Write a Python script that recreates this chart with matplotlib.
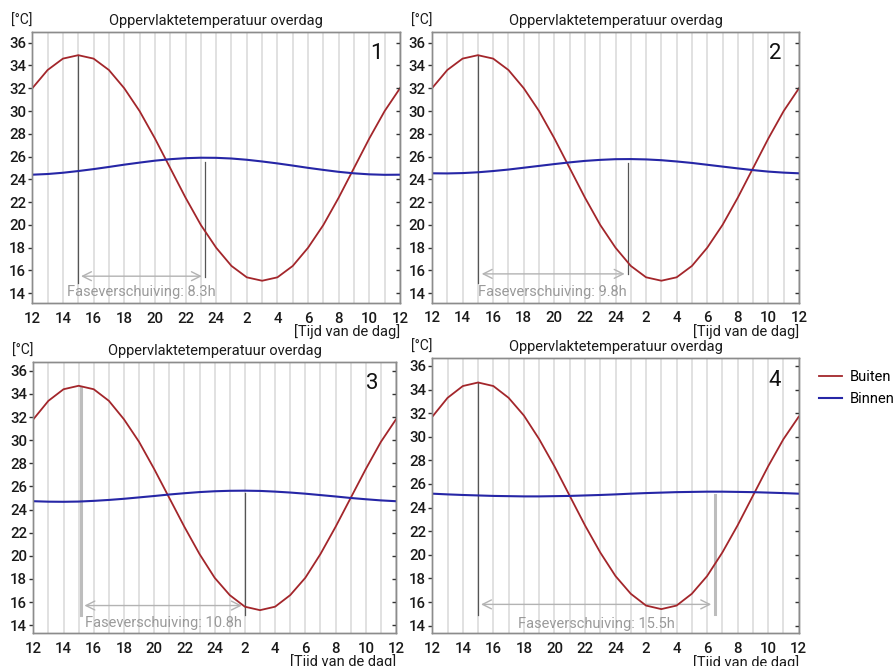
import matplotlib
matplotlib.use("Agg")
import matplotlib.pyplot as plt
from matplotlib.lines import Line2D

plt.rcParams['font.family'] = ['Roboto', 'DejaVu Sans']

# ---- data -------------------------------------------------------------
hours = list(range(25))  # 12:00 .. 12:00 next day
tick_pos = list(range(0, 25, 2))
tick_labels = ['12', '14', '16', '18', '20', '22', '24', '2', '4', '6', '8', '10', '12']
y_ticks = list(range(14, 37, 2))

buiten_1 = [32.0, 33.6, 34.6, 34.9, 34.6, 33.6, 32.0, 30.0, 27.6, 25.0, 22.4, 20.0, 18.0,
            16.4, 15.4, 15.1, 15.4, 16.4, 18.0, 20.0, 22.4, 25.0, 27.6, 30.0, 32.0]
buiten_2 = [32.0, 33.6, 34.6, 34.9, 34.6, 33.6, 32.0, 30.0, 27.6, 25.0, 22.4, 20.0, 18.0,
            16.4, 15.4, 15.1, 15.4, 16.4, 18.0, 20.0, 22.4, 25.0, 27.6, 30.0, 32.0]
buiten_3 = [31.8, 33.4, 34.4, 34.7, 34.4, 33.4, 31.8, 29.85, 27.5, 25.0, 22.5, 20.15, 18.1,
            16.6, 15.6, 15.3, 15.6, 16.6, 18.1, 20.15, 22.5, 25.0, 27.5, 29.85, 31.8]
buiten_4 = [31.7, 33.3, 34.3, 34.6, 34.3, 33.3, 31.8, 29.8, 27.5, 25.0, 22.5, 20.2, 18.2,
            16.7, 15.7, 15.4, 15.7, 16.7, 18.2, 20.2, 22.5, 25.0, 27.5, 29.8, 31.7]

binnen_1 = [24.41, 24.47, 24.58, 24.73, 24.90, 25.09, 25.29, 25.47, 25.64, 25.77, 25.86, 25.90, 25.89,
            25.83, 25.72, 25.57, 25.40, 25.21, 25.01, 24.83, 24.66, 24.53, 24.44, 24.40, 24.41]
binnen_2 = [24.53, 24.52, 24.55, 24.62, 24.73, 24.86, 25.02, 25.18, 25.34, 25.49, 25.62, 25.71, 25.77,
            25.78, 25.75, 25.68, 25.57, 25.44, 25.28, 25.12, 24.96, 24.81, 24.68, 24.59, 24.53]
binnen_3 = [24.72, 24.68, 24.67, 24.69, 24.75, 24.83, 24.93, 25.05, 25.17, 25.30, 25.41, 25.51, 25.58,
            25.62, 25.63, 25.61, 25.55, 25.47, 25.37, 25.25, 25.13, 25.00, 24.89, 24.79, 24.72]
binnen_4 = [25.18, 25.12, 25.07, 25.03, 24.99, 24.97, 24.95, 24.95, 24.97, 24.99, 25.03, 25.07, 25.12,
            25.18, 25.23, 25.27, 25.31, 25.33, 25.35, 25.35, 25.33, 25.31, 25.27, 25.23, 25.18]

panel_numbers = ['1', '2', '3', '4']
phase_shift_labels = ['Faseverschuiving: 8.3h', 'Faseverschuiving: 9.8h',
                      'Faseverschuiving: 10.8h', 'Faseverschuiving: 15.5h']
peak_outside = [3.0, 3.0, 3.16, 3.0]          # hour index of outdoor peak marker
peak_inside = [11.3, 12.8, 14.0, 18.5]        # hour index of indoor peak marker
outside_marker_top = [34.9, 34.9, 34.48, 34.6]
inside_marker_top = [25.55, 25.46, 25.4, 25.07]
inside_marker_bottom = [15.46, 15.7, 14.9, 15.0]
arrow_start = [3.18, 3.25, 3.38, 3.19]
arrow_end = [11.07, 12.6, 13.8, 18.27]
arrow_y = [15.5, 15.7, 15.7, 15.8]
label_x = [7.1, 7.9, 8.6, 10.75]

buiten = [buiten_1, buiten_2, buiten_3, buiten_4]
binnen = [binnen_1, binnen_2, binnen_3, binnen_4]

# ---- layout -----------------------------------------------------------
W, H = 896, 666
boxes = [  # left, top, right, bottom in pixels
    (32.3, 32.3, 400.0, 303.3),
    (432.0, 32.3, 799.0, 302.7),
    (33.3, 362.3, 396.0, 633.3),
    (432.3, 358.3, 798.7, 633.3),
]
ylims = [(13.12, 36.91), (13.17, 36.91), (13.30, 36.73), (13.35, 36.65)]
outer_styles = [('#555555', 0.9), ('#555555', 0.9), ('#bdbdbd', 2.2), ('#555555', 0.9)]
inner_styles = [('#555555', 0.9), ('#555555', 0.9), ('#555555', 0.9), ('#bdbdbd', 2.2)]

RED = '#A3262B'
BLUE = '#2626A6'
SPINE = '#8c8c8c'
GRID = '#dedede'
TXT = '#1a1a1a'

fig = plt.figure(figsize=(W / 100, H / 100), dpi=100)

for i in range(4):
    l, t, r, b = boxes[i]
    ax = fig.add_axes([l / W, 1 - b / H, (r - l) / W, (b - t) / H])
    ax.set_xlim(0, 24)
    ax.set_ylim(*ylims[i])

    ax.set_xticks(tick_pos)
    ax.set_xticklabels(tick_labels, fontweight='medium')
    ax.set_xticks(hours, minor=True)
    ax.grid(axis='x', which='both', color=GRID, lw=1.3, zorder=0)
    ax.tick_params(axis='x', which='both', length=0, pad=6, labelsize=10.8, labelcolor=TXT)

    ax.set_yticks(y_ticks)
    ax.set_yticklabels([str(v) for v in y_ticks], fontweight='medium')
    ax.tick_params(axis='y', direction='out', length=3, width=1, color='#333333',
                   pad=1.5, labelsize=10.8, labelcolor=TXT)
    ax2 = ax.twinx()
    ax2.set_ylim(*ylims[i])
    ax2.set_yticks(y_ticks)
    ax2.tick_params(axis='y', direction='in', length=3, width=1, color='#333333', labelright=False)
    for a in (ax, ax2):
        for s in a.spines.values():
            s.set_color(SPINE)
            s.set_linewidth(1.0)

    ax.plot(hours, buiten[i], color=RED, lw=1.3, zorder=3)
    ax.plot(hours, binnen[i], color=BLUE, lw=1.5, zorder=3)

    c, w = outer_styles[i]
    ax.plot([peak_outside[i], peak_outside[i]], [14.9, outside_marker_top[i]], color=c, lw=w, zorder=2)
    c, w = inner_styles[i]
    ax.plot([peak_inside[i], peak_inside[i]], [inside_marker_bottom[i], inside_marker_top[i]],
            color=c, lw=w, zorder=2)

    ax.annotate('', xy=(arrow_end[i], arrow_y[i]), xytext=(arrow_start[i], arrow_y[i]),
                arrowprops=dict(arrowstyle='<->', color='#b3b3b3', lw=1.0,
                                mutation_scale=16, shrinkA=0, shrinkB=0), zorder=2)
    ax.text(label_x[i], 14.15, phase_shift_labels[i], ha='center', va='center',
            fontsize=10.5, color='#9a9a9a', zorder=4)

    ax.text(0.935, 0.92, panel_numbers[i], transform=ax.transAxes, ha='center', va='center',
            fontsize=16, color='#111111')
    ax.set_title('Oppervlaktetemperatuur overdag', fontsize=10.5, color=TXT, pad=5)
    ax.text(-0.058, 1.015, '[°C]', transform=ax.transAxes, ha='left', va='bottom',
            fontsize=10, color=TXT)
    ax.text(1.0, -0.078, '[Tijd van de dag]', transform=ax.transAxes, ha='right', va='top',
            fontsize=10.5, color=TXT)

handles = [Line2D([0], [0], color=RED, lw=1.3), Line2D([0], [0], color=BLUE, lw=1.5)]
fig.legend(handles, ['Buiten', 'Binnen'], loc='upper left',
           bbox_to_anchor=(806 / W, 1 - 357 / H), frameon=False, fontsize=10.5,
           handlelength=1.6, handletextpad=0.5, labelspacing=0.55)

fig.savefig('out.png', dpi=100)
